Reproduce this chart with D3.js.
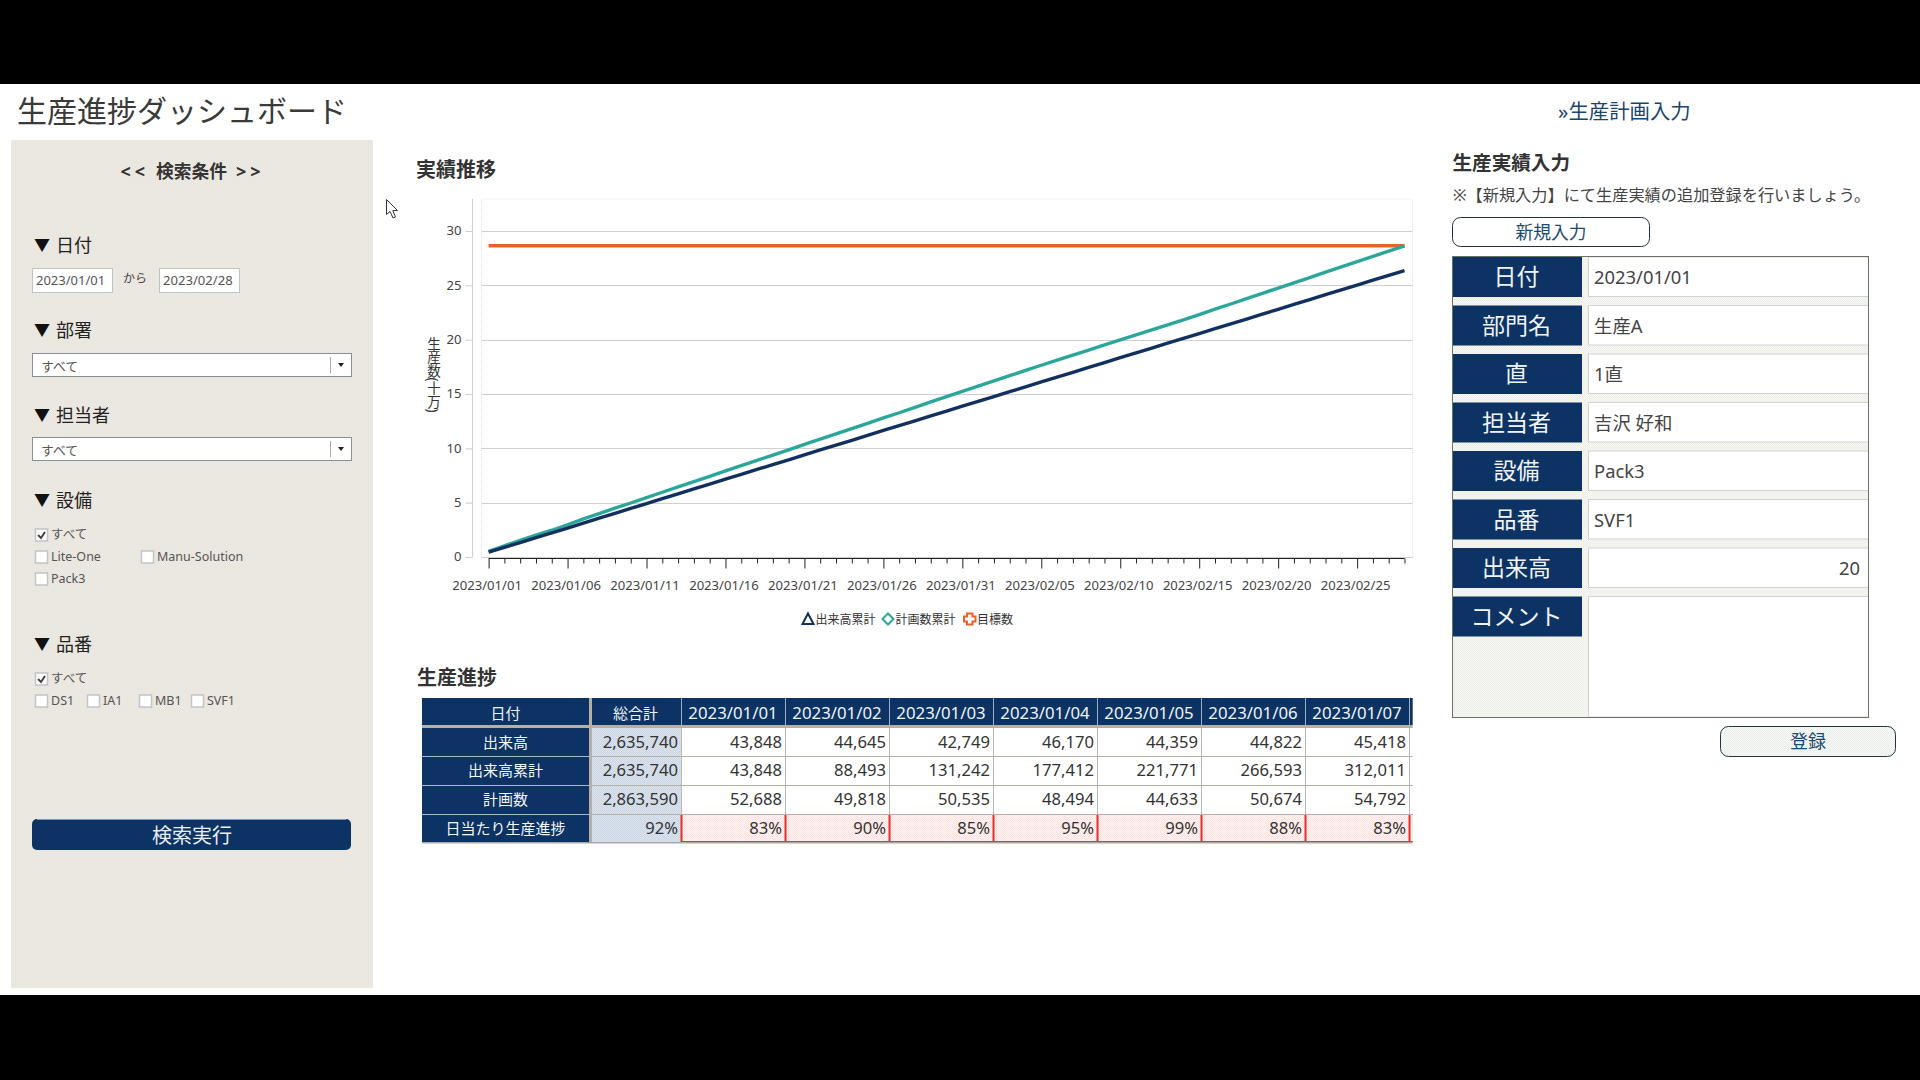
<!DOCTYPE html>
<html>
  <head>
    <meta charset="utf-8">
    <script type="text/javascript" src="https://cdnjs.cloudflare.com/ajax/libs/d3/7.8.5/d3.min.js"></script>
    <style>
      html, body { margin: 0; padding: 0; background: #fff; overflow: hidden; }
      svg { display: block; }
      text { font-family: "Noto Sans", "Noto Sans CJK JP", sans-serif; }
      .axis text { font-size: 13.1px; fill: #444; }
    </style>
  </head>
  <body>
    <script type="text/javascript">
    var NAVY = "#0c3363", TEAL = "#2ba69b", ORANGE = "#e8622a", LINE_NAVY = "#12305f";

    var actualDaily = [43848, 44645, 42749, 46170, 44359, 44822, 45418,
        44820, 45310, 44260, 45120, 44690, 45540, 44130, 44980, 45260, 44470,
        44910, 45030, 44350, 45420, 44610, 44080, 45180, 44760, 45350, 44520,
        44210, 45080, 44530, 44870, 44160, 45010, 44390, 44720, 44950, 44280,
        44640, 45120, 44430, 44810, 44060, 44590,
        44620, 44180, 45040, 44350, 44790, 44510, 44960, 44240, 44680, 45100,
        44370, 44830, 44270, 44560, 44910, 43679];
    var planDaily = [52688, 49818, 50535, 48494, 44633, 50674, 54792,
        48210, 49120, 47880, 50310, 48760, 49440, 47650, 48930, 50120, 48350,
        49280, 47960, 48640, 49710, 48190, 47820, 49360, 48570, 50040, 47430,
        49880, 50650, 48120, 47260, 48840, 49510, 46930, 48370, 47640, 47950,
        46220, 45870, 47310, 46480, 45690, 46950, 46140, 45820,
        48260, 49130, 47720, 48890, 48410, 49570, 48030,
        48620, 49340, 47980, 48750, 49210, 48130, 48516];

    var actualCum = Array.from(d3.cumsum(actualDaily));
    var planCum = Array.from(d3.cumsum(planDaily));
    var actualTotal = actualCum[actualCum.length - 1];
    var planTotal = planCum[planCum.length - 1];
    var dates = actualDaily.map(function(d, i) { return new Date(Date.UTC(2023, 0, 1 + i)); });
    var fmtDate = d3.utcFormat("%Y/%m/%d");
    var fmtNum = d3.format(",");
    var fmtPct = d3.format(".0%");

    var svg = d3.select("body").append("svg").attr("width", 1920).attr("height", 1080);

    // fine dither seen on the panels of the reference
    var defs = svg.append("defs");
    function dither(id, a, b) {
        var p = defs.append("pattern").attr("id", id).attr("width", 2).attr("height", 2)
            .attr("patternUnits", "userSpaceOnUse");
        p.append("rect").attr("width", 2).attr("height", 2).attr("fill", a);
        p.append("rect").attr("width", 1).attr("height", 1).attr("fill", b);
        p.append("rect").attr("x", 1).attr("y", 1).attr("width", 1).attr("height", 1).attr("fill", b);
    }
    dither("sideFill", "#eeeae4", "#e7e3dd");
    dither("formFill", "#f7f8f4", "#ecefe8");
    dither("totalFill", "#dbe3ee", "#ccd6e3");
    dither("warnFill", "#fff2f0", "#fce4e2");
    dither("btnFill", "#f7f9f6", "#e9eee8");

    function label(g, x, y, str, size, opts) {
        opts = opts || {};
        return g.append("text")
            .attr("x", x).attr("y", y)
            .attr("dominant-baseline", "central")
            .attr("text-anchor", opts.anchor || "start")
            .attr("font-size", size)
            .attr("font-weight", opts.weight || 400)
            .attr("fill", opts.fill || "#333")
            .text(str);
    }
    function box(g, x, y, w, h, fill, stroke, r) {
        return g.append("rect").attr("x", x).attr("y", y).attr("width", w).attr("height", h)
            .attr("rx", r || 0).attr("fill", fill).attr("stroke", stroke || "none");
    }

    // page frame
    box(svg, 0, 0, 1920, 84, "#000");
    box(svg, 0, 995, 1920, 85, "#000");
    label(svg, 17, 110, "生産進捗ダッシュボード", 30, {fill: "#3a3a3a"});
    label(svg, 1558, 111, "»生産計画入力", 20.4, {fill: "#1a4470"});

    // search panel
    var side = svg.append("g");
    box(side, 11, 140, 362, 848, "url(#sideFill)");
    label(side, 120.5, 171, "<<", 18, {weight: 700}).attr("letter-spacing", 4);
    label(side, 156, 171, "検索条件", 17.8, {weight: 700});
    label(side, 236, 171, ">>", 18, {weight: 700}).attr("letter-spacing", 4);

    function heading(y, str) {
        label(side, 34, y, "▼", 16, {fill: "#111"});
        label(side, 56, y, str, 18, {fill: "#222"});
    }
    function selectBox(y) {
        box(side, 32.5, y + 0.5, 319, 23, "#fff", "#8a8f92");
        label(side, 41, y + 12.5, "すべて", 12.8, {fill: "#555"});
        side.append("line").attr("x1", 330.5).attr("x2", 330.5).attr("y1", y + 4).attr("y2", y + 20).attr("stroke", "#aaa");
        side.append("path").attr("d", d3.line()([[338, y + 10], [344, y + 10], [341, y + 14]])).attr("fill", "#222");
    }
    function check(x, y, str, on) {
        box(side, x + 0.5, y - 6, 12, 12, "#fff", "#c4c4c4").attr("stroke-width", 1.5);
        if (on) {
            side.append("path").attr("d", d3.line()([[x + 3, y], [x + 6, y + 3], [x + 10, y - 3]]))
                .attr("fill", "none").attr("stroke", "#444").attr("stroke-width", 2);
        }
        label(side, x + 16, y - 0.8, str, 12.5, {fill: "#555"});
    }

    heading(245, "日付");
    box(side, 32.5, 268.5, 80, 24, "#fff", "#bcc4c4");
    label(side, 36, 280, "2023/01/01", 13, {fill: "#555"});
    label(side, 123, 278, "から", 12, {fill: "#444"});
    box(side, 159.5, 268.5, 80, 24, "#fff", "#bcc4c4");
    label(side, 163, 280, "2023/02/28", 13.1, {fill: "#555"});

    heading(330, "部署");
    selectBox(353);
    heading(415, "担当者");
    selectBox(437);

    heading(500, "設備");
    check(35, 535, "すべて", true);
    check(35, 557, "Lite-One", false);
    check(141, 557, "Manu-Solution", false);
    check(35, 579, "Pack3", false);

    heading(644, "品番");
    check(35, 679, "すべて", true);
    [["DS1", 35], ["IA1", 87], ["MB1", 139], ["SVF1", 191]].forEach(function(d) {
        check(d[1], 701, d[0], false);
    });

    box(side, 32, 819, 319, 31, NAVY, "none", 5);
    side.append("path").attr("d", "M37,819.5H346").attr("stroke", "#6f9cc8");
    label(side, 192, 835, "検索実行", 20, {anchor: "middle", fill: "#e8eef4"});

    // cursor
    svg.append("path")
        .attr("d", "M386.5,199.5 L386.5,214.5 L390,211.5 L393,218 L395.5,217 L392.8,210.6 L397.5,210.5 Z")
        .attr("fill", "#fff").attr("stroke", "#333").attr("stroke-width", 1);

    // chart
    label(svg, 416, 169, "実績推移", 20, {weight: 700});

    var x = d3.scaleUtc().domain([dates[0], dates[dates.length - 1]]).range([488.6, 1404.5]);
    var y = d3.scaleLinear().domain([0, 30]).range([557, 231]);
    var plot = {left: 481.5, right: 1412.5, top: 199, bottom: 557};

    svg.append("path")
        .attr("d", "M" + plot.left + "," + plot.bottom + "V" + plot.top + "H" + plot.right + "V" + plot.bottom)
        .attr("fill", "none").attr("stroke", "#e2e2e2").attr("stroke-dasharray", "1 1");

    svg.append("g").selectAll("line").data(d3.range(0, 31, 5)).enter().append("line")
        .attr("x1", plot.left).attr("x2", plot.right)
        .attr("y1", function(d) { return Math.round(y(d)) + 0.5; })
        .attr("y2", function(d) { return Math.round(y(d)) + 0.5; })
        .attr("stroke", "#cfcfcf");

    var yAxis = svg.append("g").attr("class", "axis y").attr("transform", "translate(472.5,0)")
        .call(d3.axisLeft(y).tickValues(d3.range(0, 31, 5)).tickSize(7).tickPadding(4));
    yAxis.select(".domain").attr("d", "M0,199V557").attr("stroke", "#cfcfcf");
    yAxis.selectAll(".tick line").attr("stroke", "#cfcfcf");
    yAxis.selectAll(".tick text").attr("dy", "0.28em");

    svg.append("text")
        .attr("transform", "translate(433,337)")
        .style("writing-mode", "vertical-rl")
        .attr("font-size", 13.5).attr("fill", "#333")
        .text("生産数(十万)");

    var xAxis = svg.append("g").attr("class", "axis x").attr("transform", "translate(0,558.5)")
        .call(d3.axisBottom(x).tickValues(dates).tickSize(5).tickPadding(0)
            .tickFormat(function(d, i) { return i % 5 == 0 ? fmtDate(d) : ""; }));
    xAxis.select(".domain").attr("d", "M" + x.range()[0] + ",0H" + x.range()[1]).attr("stroke", "#222");
    xAxis.selectAll(".tick line").attr("stroke", "#222")
        .attr("y2", function(d, i) { return i % 5 == 0 ? 10 : 5; });
    xAxis.selectAll(".tick text").attr("x", -2).attr("y", 27).attr("dy", "0.32em");

    var line = d3.line()
        .x(function(d) { return x(d.date); })
        .y(function(d) { return y(d.value / 100000); });
    var seriesList = [
        {color: ORANGE, values: dates.map(function(d) { return {date: d, value: planTotal}; })},
        {color: TEAL, values: dates.map(function(d, i) { return {date: d, value: planCum[i]}; })},
        {color: LINE_NAVY, values: dates.map(function(d, i) { return {date: d, value: actualCum[i]}; })}
    ];
    svg.append("g").selectAll("path").data(seriesList).enter().append("path")
        .attr("d", function(d) { return line(d.values); })
        .attr("fill", "none")
        .attr("stroke-width", 3.4)
        .attr("stroke", function(d) { return d.color; });

    // legend
    var leg = svg.append("g");
    leg.append("path").attr("d", "M808,613.5 L813.5,624 L802.5,624 Z").attr("fill", "#fff").attr("stroke", LINE_NAVY).attr("stroke-width", 2);
    label(leg, 815.5, 619, "出来高累計", 12, {fill: "#333"});
    leg.append("path").attr("d", "M888,613.5 L893.5,619 L888,624.5 L882.5,619 Z").attr("fill", "#fff").attr("stroke", TEAL).attr("stroke-width", 2);
    label(leg, 895.5, 619, "計画数累計", 12, {fill: "#333"});
    leg.append("path").attr("d", "M967,613.5 H972.5 V616.5 H975.5 V621.5 H972.5 V624.5 H967 V621.5 H964 V616.5 H967 Z").attr("fill", "#fff").attr("stroke", ORANGE).attr("stroke-width", 2);
    label(leg, 977, 619, "目標数", 12, {fill: "#333"});

    // progress table
    label(svg, 417, 677.5, "生産進捗", 20, {weight: 700});

    var rowDefs = [
        {name: "出来高", total: fmtNum(actualTotal), cell: function(i) { return fmtNum(actualDaily[i]); }},
        {name: "出来高累計", total: fmtNum(actualTotal), cell: function(i) { return fmtNum(actualCum[i]); }},
        {name: "計画数", total: fmtNum(planTotal), cell: function(i) { return fmtNum(planDaily[i]); }},
        {name: "日当たり生産進捗", total: fmtPct(actualTotal / planTotal), cell: function(i) { return fmtPct(actualDaily[i] / planDaily[i]); }, warn: true}
    ];
    var rowTop = [728, 756, 785, 814], rowBottom = [756, 785, 814, 842];
    var colLeft = d3.range(8).map(function(i) { return 681 + i * 104; });
    var tableRight = 1412.7;
    var table = svg.append("g");

    box(table, 422, 698, tableRight - 422, 27, NAVY);
    box(table, 589, 698, 3, 145, "#b4b0a8");
    box(table, 422, 725, tableRight - 422, 3, "#b4b0a8");
    box(table, 422, 842, tableRight - 422, 1.5, "#a8a8a8");
    label(table, 505.5, 712.5, "日付", 15, {anchor: "middle", fill: "#eef2f6"});
    label(table, 635.5, 712.5, "総合計", 15, {anchor: "middle", fill: "#eef2f6"});
    colLeft.forEach(function(cx, i) {
        if (i < 7) {
            label(table, cx + 52, 712.5, fmtDate(dates[i]), 16.8, {anchor: "middle", fill: "#eef2f6"});
        }
        table.append("line").attr("x1", cx + 0.5).attr("x2", cx + 0.5).attr("y1", 698).attr("y2", 725).attr("stroke", "#9db0c4");
    });

    rowDefs.forEach(function(r, ri) {
        var top = rowTop[ri], h = rowBottom[ri] - top;
        box(table, 422, top, 167, h, NAVY);
        label(table, 505.5, top + h / 2 - 0.5, r.name, 15, {anchor: "middle", fill: "#f4f6f9"});
        box(table, 592, top, 89, h, "url(#totalFill)");
        label(table, 678, top + h / 2 - 1, r.total, 16.6, {anchor: "end", fill: "#333"});
        colLeft.forEach(function(cx, i) {
            var w = Math.min(104, tableRight - cx);
            if (r.warn) {
                box(table, cx, top, w, h, "url(#warnFill)");
                table.append("path").attr("d", "M" + cx + "," + (top + 0.5) + "H" + (cx + w) + "M" + cx + "," + (top + h - 0.5) + "H" + (cx + w))
                    .attr("stroke", "#e23a36").attr("fill", "none");
                table.append("line").attr("x1", cx + 0.5).attr("x2", cx + 0.5).attr("y1", top).attr("y2", top + h)
                    .attr("stroke", "#ee2a28").attr("stroke-width", 2);
            } else {
                table.append("line").attr("x1", cx + 0.5).attr("x2", cx + 0.5).attr("y1", top).attr("y2", top + h)
                    .attr("stroke", "#bdb8ae");
            }
            if (i < 7) {
                label(table, cx + 101, top + h / 2 - 1, r.cell(i), 16.6, {anchor: "end", fill: "#333"});
            }
        });
    });
    // row separators go over the cells, lighter across the navy column
    rowBottom.slice(0, 3).forEach(function(b) {
        table.append("line").attr("x1", 422).attr("x2", 589).attr("y1", b + 0.5).attr("y2", b + 0.5).attr("stroke", "#a9b9ca");
        table.append("line").attr("x1", 592).attr("x2", tableRight).attr("y1", b + 0.5).attr("y2", b + 0.5).attr("stroke", "#b4b0a8");
    });

    // input form
    label(svg, 1452.5, 162, "生産実績入力", 19.6, {weight: 700});
    label(svg, 1453, 195, "※【新規入力】にて生産実績の追加登録を行いましょう。", 16.2, {fill: "#444"});
    box(svg, 1452.5, 217.5, 197, 29, "#fff", "#223344", 8);
    label(svg, 1551, 232, "新規入力", 17.8, {anchor: "middle", fill: "#1d4a70"});

    var form = svg.append("g");
    box(form, 1452.5, 256.5, 416, 461, "url(#formFill)", "#6a7268");
    var fields = [
        {name: "日付", value: "2023/01/01"},
        {name: "部門名", value: "生産A"},
        {name: "直", value: "1直"},
        {name: "担当者", value: "吉沢 好和"},
        {name: "設備", value: "Pack3"},
        {name: "品番", value: "SVF1"},
        {name: "出来高", value: "20", right: true},
        {name: "コメント", value: "", tall: true}
    ];
    fields.forEach(function(f, i) {
        var top = 257 + i * 48.5;
        box(form, 1453, top, 129, 40, NAVY);
        label(form, 1516.5, top + 19, f.name, 23, {anchor: "middle", fill: "#f0f4f8"});
        box(form, 1588.5, top, 280, f.tall ? 717 - top : 39.5, "#fff", "#d2d2d2");
        if (f.right) {
            label(form, 1860, top + 19.5, f.value, 18.4, {anchor: "end", fill: "#444"});
        } else if (f.value) {
            label(form, 1594, top + 19.5, f.value, 18.4, {fill: "#444"});
        }
    });
    box(form, 1452.5, 256.5, 416, 461, "none", "#6a7268");

    box(svg, 1720.5, 726.5, 175, 30, "url(#btnFill)", "#223344", 8);
    label(svg, 1808, 741, "登録", 18, {anchor: "middle", fill: "#1d4a70"});
    </script>
  </body>
</html>
